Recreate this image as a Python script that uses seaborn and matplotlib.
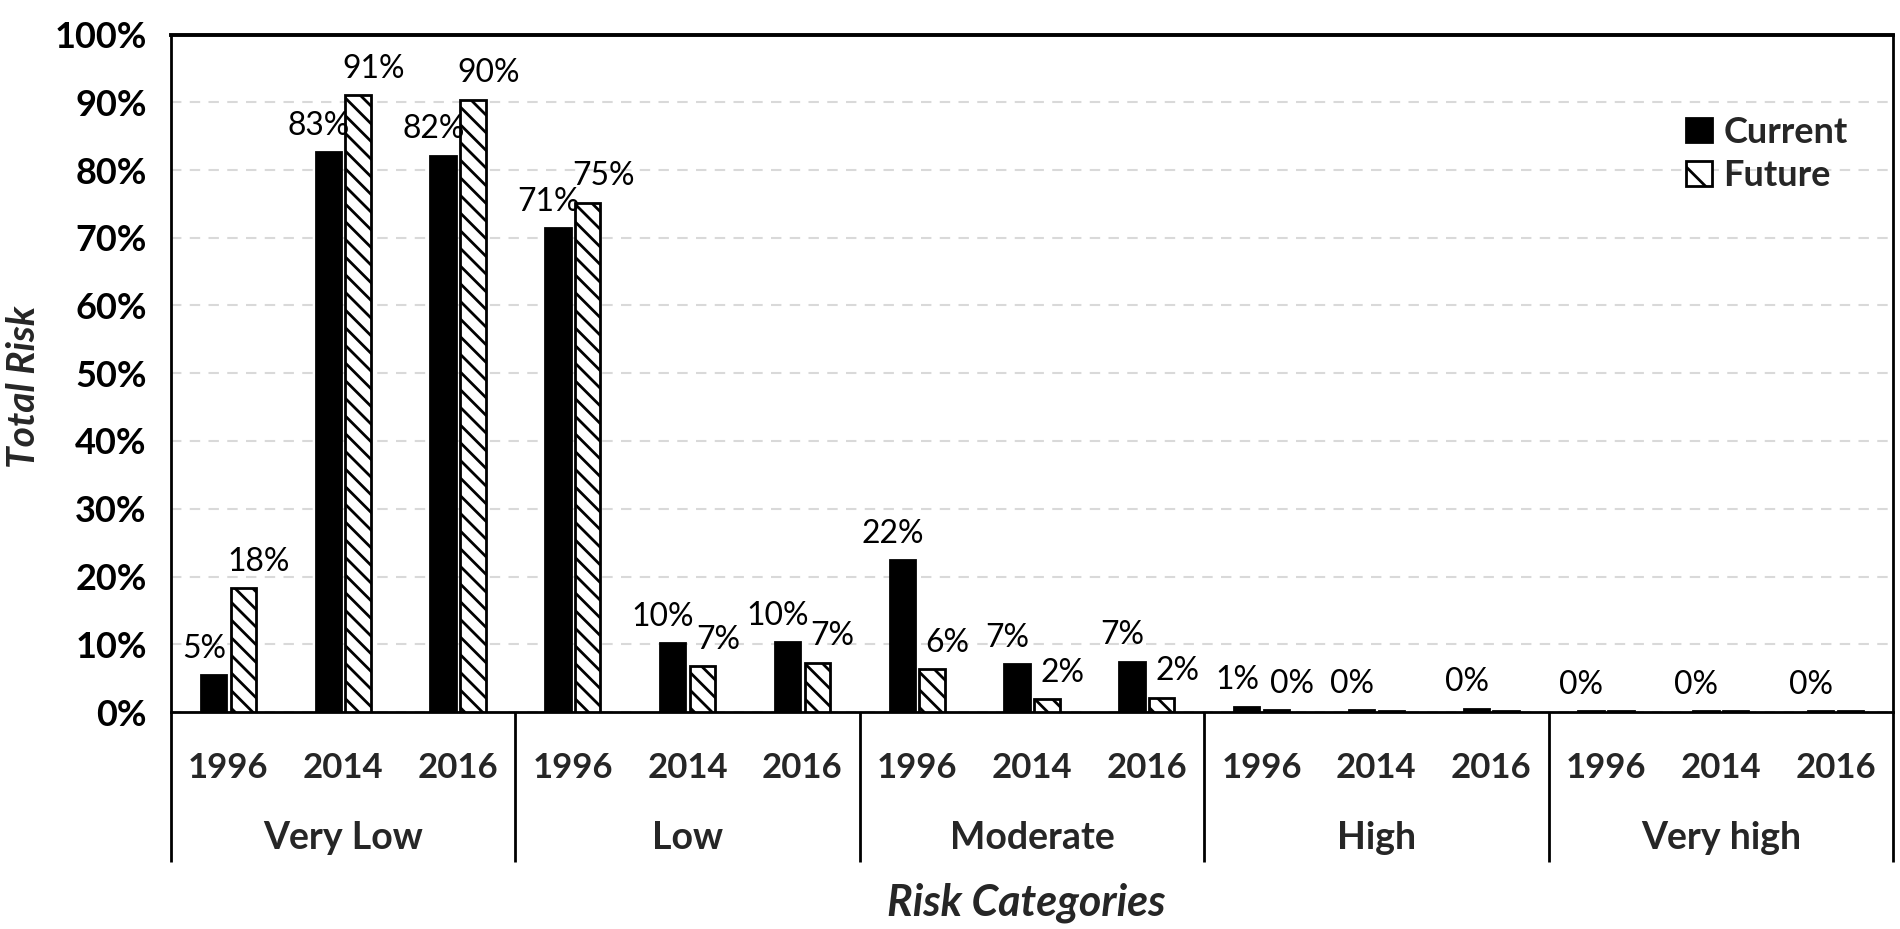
import matplotlib
matplotlib.use("Agg")
import matplotlib.pyplot as plt
from matplotlib.ticker import MultipleLocator, PercentFormatter
from matplotlib.patches import Patch
import seaborn as sns
import pandas as pd

# ---- data ----
risk_categories = ["Very Low", "Low", "Moderate", "High", "Very high"]
years = ["1996", "2014", "2016"]
series_names = ["Current", "Future"]

current_values = [0.054, 0.826, 0.821,
                  0.714, 0.102, 0.103,
                  0.224, 0.071, 0.074,
                  0.008, 0.003, 0.005,
                  0.001, 0.001, 0.001]
future_values = [0.183, 0.910, 0.904,
                 0.752, 0.068, 0.073,
                 0.063, 0.019, 0.021,
                 0.003, 0.002, 0.002,
                 0.001, 0.001, 0.001]
current_labels = ["5%", "83%", "82%",
                  "71%", "10%", "10%",
                  "22%", "7%", "7%",
                  "1%", "0%", "0%",
                  "0%", "0%", "0%"]
future_labels = ["18%", "91%", "90%",
                 "75%", "7%", "7%",
                 "6%", "2%", "2%",
                 "0%", "", "",
                 "", "", ""]

# ---- build long table ----
slots = [f"{c}|{y}" for c in risk_categories for y in years]
df = pd.DataFrame({
    "slot": slots * 2,
    "series": [series_names[0]] * len(slots) + [series_names[1]] * len(slots),
    "value": current_values + future_values,
})

# rendering resolution (chosen so the hatch spacing matches the reference)
DPI = 106
K = 100.0 / DPI          # converts sizes designed at 100 dpi to this dpi


def s(v):
    return v * K


sns.set_style("white")
plt.rcParams["font.family"] = ["Lato", "DejaVu Sans"]
plt.rcParams["hatch.linewidth"] = s(2.0)
plt.rcParams["hatch.color"] = "black"

fig = plt.figure(figsize=(1901 / DPI, 929 / DPI), dpi=DPI)
ax = fig.add_axes([171 / 1901, 1 - 712 / 929, (1893 - 171) / 1901, (712 - 34.5) / 929])

sns.barplot(data=df, x="slot", y="value", hue="series", order=slots,
            hue_order=series_names,
            palette={"Current": "black", "Future": "white"},
            edgecolor="black", linewidth=s(2), width=0.52, gap=0.15,
            errorbar=None, legend=False, ax=ax, zorder=3)

# hatch the future bars
for bar in ax.containers[1]:
    bar.set_hatch("\\\\")
    bar.set_edgecolor("black")

# data labels
label_sets = [current_labels, future_labels]
x_offsets = [-7, 11]
for cont, labels, dx in zip(ax.containers, label_sets, x_offsets):
    for bar, lab in zip(cont, labels):
        if not lab:
            continue
        ax.annotate(lab, xy=(bar.get_x() + bar.get_width() / 2, bar.get_height()),
                    xytext=(s(dx), s(19)), textcoords="offset points",
                    ha="center", va="center", fontsize=s(23), fontweight="normal",
                    color="black", zorder=5)

# axes styling
n = len(slots)
ax.set_xlim(-0.5, n - 0.5)
ax.set_ylim(0, 1.0)
ax.yaxis.set_major_locator(MultipleLocator(0.1))
ax.yaxis.set_minor_locator(MultipleLocator(0.02))
ax.yaxis.set_major_formatter(PercentFormatter(1.0, decimals=0))
ax.tick_params(axis="y", which="major", direction="inout", length=s(17), width=s(1.6),
               labelsize=s(26), pad=s(9), colors="black")
ax.tick_params(axis="y", which="minor", direction="in", length=s(6.5), width=s(1.6),
               colors="black")
for lab in ax.get_yticklabels():
    lab.set_fontweight("bold")

ax.set_xticks(range(n))
ax.set_xticklabels([t.split("|")[1] for t in slots], fontsize=s(25), fontweight="bold")
ax.tick_params(axis="x", which="both", length=0, pad=s(29))
ax.set_xlabel("")
ax.set_ylabel("")

ax.yaxis.grid(True, which="major", linestyle=(0, (5, 4)), color="#d9d9d9", linewidth=s(1.5))
ax.xaxis.grid(False)
ax.set_axisbelow(True)

for side in ["left", "right", "bottom"]:
    ax.spines[side].set_visible(True)
    ax.spines[side].set_linewidth(s(2))
    ax.spines[side].set_color("black")
ax.spines["top"].set_visible(True)
ax.spines["top"].set_linewidth(s(2.8))
ax.spines["top"].set_color("black")

# category separators and group labels
trans = ax.get_xaxis_transform()
n_years = len(years)
bounds = [-0.5 + i * n_years for i in range(len(risk_categories) + 1)]
for b in bounds:
    ax.plot([b, b], [0, -0.221], transform=trans, color="black", lw=s(2),
            clip_on=False, solid_capstyle="butt")
for i, cat in enumerate(risk_categories):
    xc = i * n_years + (n_years - 1) / 2
    ax.text(xc, -0.186, cat, transform=trans, ha="center", va="center",
            fontsize=s(27), fontweight="bold")

# axis titles
fig.text(1026 / 1901, 1 - 903 / 929, "Risk Categories", ha="center", va="center",
         fontsize=s(31), fontweight="bold", style="italic")
fig.text(24 / 1901, 1 - 387 / 929, "Total Risk", ha="center", va="center",
         rotation=90, fontsize=s(28), fontweight="bold", style="italic")

# legend
handles = [Patch(facecolor="black", edgecolor="black", linewidth=s(2)),
           Patch(facecolor="white", edgecolor="black", linewidth=s(2), hatch="\\")]
fig.legend(handles, series_names, loc="center left",
           bbox_to_anchor=(1686 / 1901, 1 - 154 / 929),
           frameon=False, borderpad=0, borderaxespad=0,
           handlelength=0.72, handleheight=0.68, handletextpad=0.32,
           labelspacing=0.3, prop={"size": s(26), "weight": "bold"})

fig.savefig("out.png", dpi=DPI)
